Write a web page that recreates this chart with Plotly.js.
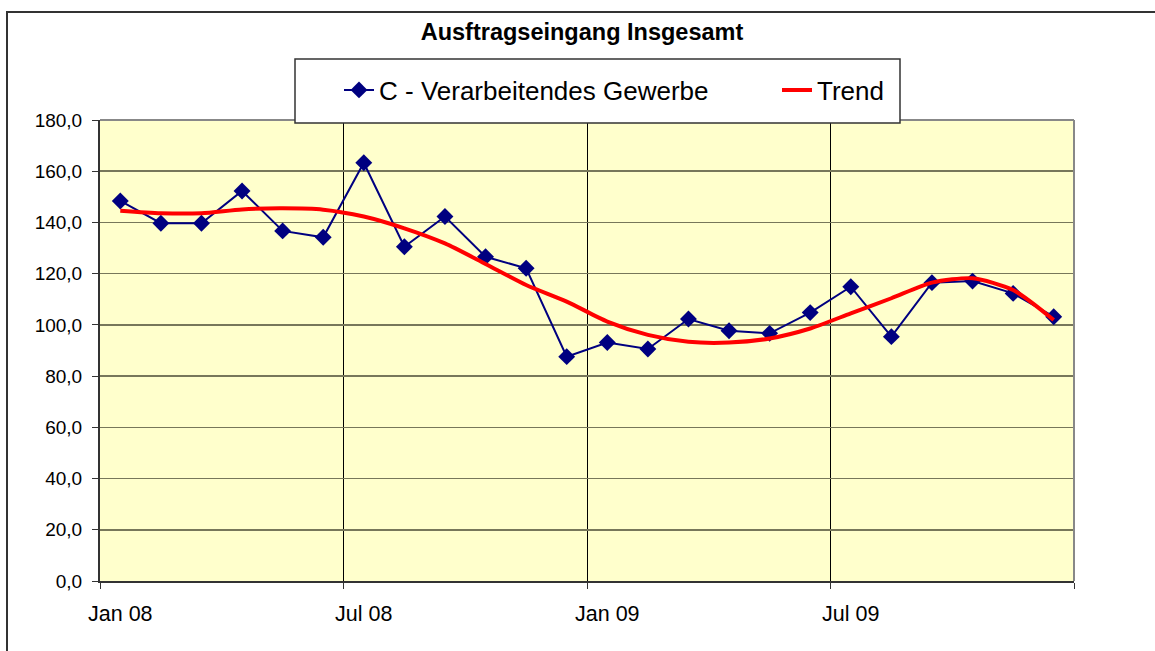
<!DOCTYPE html>
<html>
<head>
<meta charset="utf-8">
<script src="https://cdn.plot.ly/plotly-3.0.1.min.js"></script>
<style>
  html, body { margin: 0; padding: 0; background: #ffffff; overflow: hidden; }
  #chart { width: 1155px; height: 651px; position: absolute; left: 0; top: 0; }
  #frame { position: absolute; left: 6px; top: 11px; width: 1200px; height: 700px;
           border: 2px solid #333333; pointer-events: none; box-sizing: border-box; }
</style>
</head>
<body>
<div id="chart"></div>
<div id="frame"></div>
<script>
// Months Jan 08 .. Dec 09
const months = ["Jan 08","Feb 08","Mrz 08","Apr 08","Mai 08","Jun 08","Jul 08","Aug 08","Sep 08","Okt 08","Nov 08","Dez 08",
                "Jan 09","Feb 09","Mrz 09","Apr 09","Mai 09","Jun 09","Jul 09","Aug 09","Sep 09","Okt 09","Nov 09","Dez 09"];
const gewerbe = [148.4,139.7,139.7,152.3,136.7,134.2,163.3,130.5,142.3,126.6,122.1,87.6,
                 93.1,90.6,102.3,97.7,96.7,104.8,114.9,95.4,116.5,117.1,112.3,103.2];
const trend = [144.6,143.6,143.6,145.1,145.5,145.0,142.3,137.7,131.8,123.8,115.6,109.1,
               101.3,96.1,93.4,93.1,94.7,98.6,104.5,110.4,116.5,118.2,113.6,101.9];
const tickLabels = ["Jan 08","Jul 08","Jan 09","Jul 09"];
const seriesNames = ["C - Verarbeitendes Gewerbe","Trend"];
const chartTitle = "Ausftragseingang Insgesamt";

const idx = months.map((m, i) => i);
const tickIdx = tickLabels.map(t => months.indexOf(t));
const FONT = 'Arial, "Liberation Sans", sans-serif';

// plot area in pixels
const L = 100, R = 1074, T = 120, B = 581;
const W = R - L, H = B - T;
const px = x => (x - L) / W;
const py = y => (B - y) / H;

const traces = [
  {
    x: idx, y: gewerbe, name: seriesNames[0], type: 'scatter', mode: 'lines+markers',
    line: {color: '#000080', width: 2},
    marker: {symbol: 'diamond', size: 13, color: '#000080'},
    hoverinfo: 'skip'
  },
  {
    x: idx, y: trend, name: seriesNames[1], type: 'scatter', mode: 'lines',
    line: {color: '#FF0000', width: 4, shape: 'spline', smoothing: 0.7},
    hoverinfo: 'skip'
  }
];

const layout = {
  width: 1155, height: 651,
  margin: {l: L, r: 1155 - R, t: T, b: 651 - B, pad: 0, autoexpand: false},
  paper_bgcolor: '#ffffff',
  plot_bgcolor: '#FFFFCC',
  separators: ',.',
  font: {family: FONT, color: '#000000', size: 19},
  showlegend: true,
  title: {
    text: '<b>' + chartTitle + '</b>',
    font: {family: FONT, size: 23.5, color: '#000000'},
    xref: 'container', x: 582 / 1155, xanchor: 'center',
    yref: 'container', y: 1 - 32 / 651, yanchor: 'middle'
  },
  legend: {
    orientation: 'h',
    x: px(339), xanchor: 'left',
    y: 1 + (T - 90) / H, yanchor: 'middle',
    bgcolor: 'rgba(0,0,0,0)', borderwidth: 0,
    font: {family: FONT, size: 26, color: '#000000'},
    entrywidth: 393, entrywidthmode: 'pixels',
    itemclick: false, itemdoubleclick: false
  },
  xaxis: {
    range: [-0.5, 23.5],
    tickmode: 'array', tickvals: tickIdx, ticktext: tickLabels,
    ticks: '', showgrid: false, zeroline: false,
    ticklabelstandoff: 12,
    tickfont: {family: FONT, size: 21.5, color: '#000000'},
    showline: true, linecolor: '#333333', linewidth: 2,
    minor: {tick0: -0.5, dtick: 6, ticks: 'outside', ticklen: 6, tickwidth: 1, tickcolor: '#333333',
            showgrid: true, gridcolor: '#000000', gridwidth: 1},
    fixedrange: true
  },
  yaxis: {
    range: [0, 180], dtick: 20, tick0: 0,
    tickformat: '.1f',
    ticks: 'outside', ticklen: 6, tickwidth: 1, tickcolor: '#333333',
    ticklabelstandoff: 6,
    tickfont: {family: FONT, size: 19, color: '#000000'},
    showgrid: true, gridcolor: '#77775a', gridwidth: 1.5,
    zeroline: false,
    showline: true, linecolor: '#333333', linewidth: 2,
    fixedrange: true
  },
  shapes: [
    // plot area border (top and right in gray)
    {type: 'line', xref: 'paper', yref: 'paper', x0: 0, x1: 1, y0: 1, y1: 1,
     line: {color: '#888888', width: 2}, layer: 'above'},
    {type: 'line', xref: 'paper', yref: 'paper', x0: 1, x1: 1, y0: 0, y1: 1,
     line: {color: '#888888', width: 2}, layer: 'above'},
    // legend box
    {type: 'rect', xref: 'paper', yref: 'paper',
     x0: px(295), x1: px(900), y0: py(123), y1: py(59),
     fillcolor: '#ffffff', line: {color: '#333333', width: 1.5}, layer: 'above'}
  ]
};

Plotly.newPlot('chart', traces, layout, {displayModeBar: false, staticPlot: true});
</script>
</body>
</html>
